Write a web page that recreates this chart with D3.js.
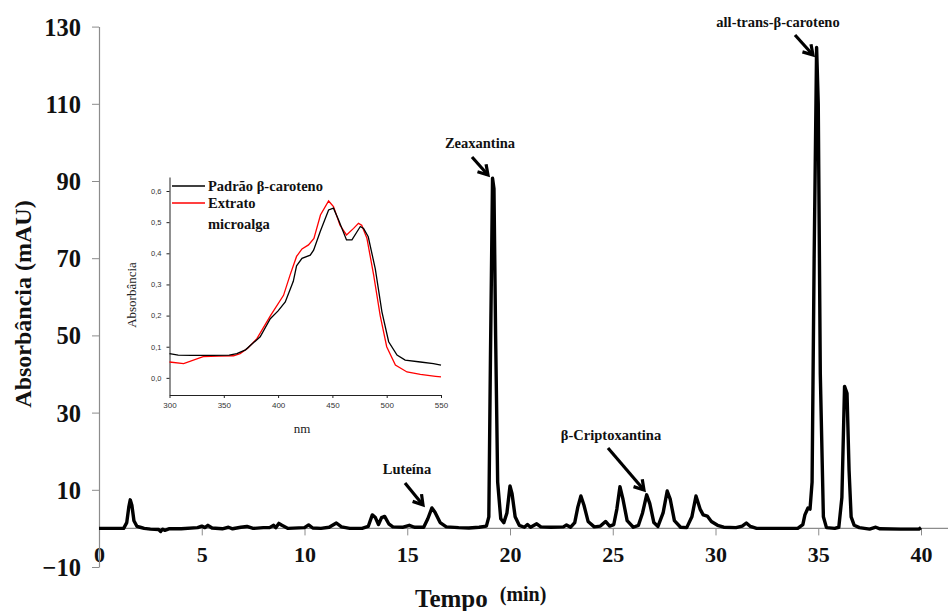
<!DOCTYPE html>
<html><head><meta charset="utf-8">
<script src="https://cdn.jsdelivr.net/npm/d3@7/dist/d3.min.js"></script>
<style>body{margin:0;background:#fff}svg{display:block}</style>
</head><body>
<svg id="c" width="950" height="611"></svg>
<script>
// Chromatogram (time in min, absorbance in mAU)
const chromTime = [0,1.2,1.35,1.45,1.52,1.6,1.7,1.85,2.0,2.2,2.5,2.9,3.0,3.1,3.2,3.4,4.0,4.8,5.0,5.15,5.3,5.5,6.0,6.3,6.5,6.9,7.2,7.5,8.0,8.3,8.5,8.6,8.75,8.9,9.2,10.0,10.2,10.4,10.8,11.2,11.55,11.8,12.2,12.8,13.1,13.3,13.45,13.6,13.75,13.9,14.1,14.3,14.8,15.1,15.35,15.8,16.0,16.2,16.35,16.6,16.9,17.5,18.0,18.5,18.85,18.97,19.05,19.15,19.22,19.3,19.4,19.55,19.7,19.85,20.0,20.1,20.25,20.45,20.7,20.85,21.0,21.3,21.5,22.0,22.6,22.75,22.95,23.15,23.3,23.45,23.6,23.8,24.1,24.4,24.65,24.85,25.05,25.2,25.35,25.5,25.7,26.0,26.25,26.45,26.65,26.8,27.0,27.2,27.45,27.65,27.8,28.0,28.3,28.6,28.85,29.05,29.25,29.4,29.6,29.8,30.1,30.4,31.0,31.3,31.5,31.7,32.0,33.0,34.0,34.25,34.35,34.5,34.6,34.7,34.8,34.92,35.0,35.1,35.25,35.4,35.8,36.0,36.15,36.28,36.4,36.5,36.6,36.75,37.0,37.5,37.8,38.0,39.0,39.9,40.0];
const chromAbs = [0,0,1.5,5.5,7.4,6,2,0.5,0.3,0,-0.2,-0.3,-0.8,-0.2,-0.5,-0.1,-0.1,0.2,0.6,0.2,0.8,0.1,-0.1,0.3,-0.1,0.3,0.5,0,0.2,0.2,0.8,0.2,1.3,0.8,0,0.2,0.9,0.1,0,0.3,1.4,0.4,0,0,0.5,3.5,2.8,1,2.8,3.1,1.2,0.4,0.3,0.8,0.3,0.3,2.5,5.3,4.2,1.5,0.4,0.2,0.1,0.3,0.6,3,45,90.7,88,50,12,2.5,1.5,4,11,9,3,0.8,0.3,1,0.3,1.2,0.4,0.3,0.4,0.9,0.3,1.5,5.5,8.4,6,1.8,0.4,0.6,1.8,0.6,1,5,10.8,7.5,2,0.3,0.8,4,8.7,6.5,1.5,0.5,4,9.7,7.5,2,0.3,0.2,3,8.4,5,3.5,3.2,1.8,0.8,0.3,0.2,0.6,1.4,0.5,0,0,0,1,3.5,5.3,5,12,70,124.6,110,40,3,0.2,0,0.3,8,36.8,35,15,3,0.8,0.2,-0.2,0.3,-0.1,-0.2,-0.2,0.2];
const xTicks = [0,5,10,15,20,25,30,35,40];
const yTicks = [-10,10,30,50,70,90,110,130];

// Peak annotations
const peakNames = ["Luteína","Zeaxantina","β-Criptoxantina","all-trans-β-caroteno"];
const peakTimes = [16.2,19.15,26.65,34.92];
const peakValues = [5.3,90.7,8.7,124.6];

// Inset UV-Vis spectra
const nmBlack = [300,308,320,340,355,362,370,383.5,392.8,400,406.6,414,417,422,429.6,432.7,438.8,446.5,451,455.7,463,468,475.7,478.7,483,489.5,495.6,501.8,509.5,517,531,543,550];
const absBlack = [0.078,0.073,0.072,0.072,0.073,0.078,0.09,0.132,0.19,0.215,0.244,0.31,0.36,0.384,0.394,0.41,0.47,0.539,0.545,0.507,0.443,0.443,0.486,0.48,0.453,0.35,0.212,0.116,0.073,0.057,0.051,0.046,0.041];
const nmRed = [300,313,331,345,359,365,372,380.5,393,405,411,417,422,428,433,439,446.5,451,457,463,469.5,474,477,481.8,488,494,500,508,518.7,531,545,550];
const absRed = [0.051,0.046,0.068,0.07,0.071,0.078,0.095,0.126,0.2,0.265,0.33,0.39,0.414,0.427,0.448,0.523,0.568,0.55,0.49,0.459,0.48,0.496,0.49,0.448,0.33,0.2,0.1,0.041,0.019,0.011,0.005,0.003];
const insetXTicks = [300,350,400,450,500,550];
const insetYTicks = [0,0.1,0.2,0.3,0.4,0.5,0.6];
const legendLabels = [["Padrão β-caroteno"],["Extrato","microalga"]];
const legendColors = ["#000","#ff0000"];

const svg = d3.select("#c");
const serif = "'Liberation Serif','Times New Roman',serif";
const sans = "'Liberation Sans',Arial,sans-serif";
const axisCol = "#8c8c8c";

// ---------- main chart ----------
const x = d3.scaleLinear().domain([0,40]).range([99,921]);
const y = d3.scaleLinear().domain([-10,130]).range([567,26.6]);

const gx = svg.append("g").attr("transform",`translate(0,${y(0)})`)
  .call(d3.axisBottom(x).tickValues(xTicks).tickSize(7).tickSizeOuter(0).tickFormat(d3.format("d")));
gx.select(".domain").remove();
gx.selectAll(".tick line").attr("stroke",axisCol);
gx.selectAll(".tick text").attr("font-family",serif).attr("font-weight","bold")
  .attr("font-size",22).attr("fill","#111").attr("dy",0).attr("y",34);
gx.append("line").attr("x1",x(0)).attr("x2",948).attr("y1",0).attr("y2",0).attr("stroke",axisCol).attr("stroke-width",1.2);

const gy = svg.append("g").attr("transform",`translate(${x(0)},0)`)
  .call(d3.axisLeft(y).tickValues(yTicks).tickSize(7).tickSizeOuter(0).tickFormat(d3.format("d")));
gy.select(".domain").attr("stroke",axisCol).attr("stroke-width",1.2);
gy.selectAll(".tick line").attr("stroke",axisCol);
gy.selectAll(".tick text").attr("font-family",serif).attr("font-weight","bold")
  .attr("font-size",24.5).attr("fill","#111").attr("x",-18).attr("dy","0.35em");

// axis titles
svg.append("text").attr("transform",`translate(31,304) rotate(-90)`).attr("text-anchor","middle")
  .attr("font-family",serif).attr("font-weight","bold").attr("font-size",24).attr("fill","#111")
  .text("Absorbância  (mAU)");
const xt = svg.append("text").attr("x",415).attr("y",607).attr("font-family",serif).attr("font-weight","bold").attr("fill","#111");
xt.append("tspan").attr("font-size",25).text("Tempo");
xt.append("tspan").attr("font-size",20).attr("dx",12).attr("dy",-6).text("(min)");

// chromatogram line
const chrom = chromTime.map((t,i)=>[t,chromAbs[i]]);
svg.append("path").datum(chrom)
  .attr("d",d3.line().x(d=>x(d[0])).y(d=>y(d[1])))
  .attr("fill","none").attr("stroke","#000").attr("stroke-width",3.4).attr("stroke-linejoin","round");

// annotations: label position and arrow endpoints
const annLayout = [
  {lx:407,ly:474,ax0:405,ay0:483,ax1:423,ay1:505},
  {lx:480,ly:148,ax0:472,ay0:157,ax1:488,ay1:175},
  {lx:611,ly:440,ax0:608,ay0:448,ax1:644,ay1:490},
  {lx:778,ly:27,ax0:795,ay0:35,ax1:813,ay1:55}
];
peakNames.forEach((name,i)=>{
  const L = annLayout[i];
  svg.append("text").attr("x",L.lx).attr("y",L.ly).attr("text-anchor","middle")
    .attr("font-family",serif).attr("font-weight","bold").attr("font-size",14.5).attr("fill","#111").text(name);
  const ang = Math.atan2(L.ay1-L.ay0, L.ax1-L.ax0);
  const h = 11, sp = 0.55;
  svg.append("line").attr("x1",L.ax0).attr("y1",L.ay0).attr("x2",L.ax1-Math.cos(ang)*2).attr("y2",L.ay1-Math.sin(ang)*2)
    .attr("stroke","#000").attr("stroke-width",3.2);
  svg.append("polyline")
    .attr("points",[[L.ax1-h*Math.cos(ang-sp),L.ay1-h*Math.sin(ang-sp)],[L.ax1,L.ay1],[L.ax1-h*Math.cos(ang+sp),L.ay1-h*Math.sin(ang+sp)]].map(p=>p.join(",")).join(" "))
    .attr("fill","none").attr("stroke","#000").attr("stroke-width",3.2).attr("stroke-linejoin","miter");
});

// ---------- inset ----------
const ix = d3.scaleLinear().domain([300,550]).range([169.5,441]);
const iy = d3.scaleLinear().domain([-0.055,0.645]).range([395,177]);
const gix = svg.append("g").attr("transform",`translate(0,${iy(-0.055)})`)
  .call(d3.axisBottom(ix).tickValues(insetXTicks).tickSize(3).tickSizeOuter(0).tickFormat(d3.format("d")));
gix.select(".domain").attr("stroke","#222");
gix.selectAll(".tick line").attr("stroke","#222");
gix.selectAll(".tick text").attr("font-family",sans).attr("font-size",8).attr("fill","#333").attr("y",7);
const giy = svg.append("g").attr("transform",`translate(${ix(300)},0)`)
  .call(d3.axisLeft(iy).tickValues(insetYTicks).tickSize(3).tickSizeOuter(0).tickFormat(d=>d3.format(".1f")(d).replace(".",",")));
giy.select(".domain").attr("stroke","#222");
giy.selectAll(".tick line").attr("stroke","#222");
giy.selectAll(".tick text").attr("font-family",sans).attr("font-size",7.5).attr("fill","#333").attr("x",-8);

svg.append("text").attr("transform",`translate(136,295) rotate(-90)`).attr("text-anchor","middle")
  .attr("font-family",serif).attr("font-size",13).attr("fill","#222").text("Absorbância");
svg.append("text").attr("x",ix(422)).attr("y",433).attr("text-anchor","middle")
  .attr("font-family",serif).attr("font-size",13).attr("fill","#222").text("nm");

const spLine = d3.line().x(d=>ix(d[0])).y(d=>iy(d[1]));
svg.append("path").datum(nmRed.map((n,i)=>[n,absRed[i]])).attr("d",spLine)
  .attr("fill","none").attr("stroke",legendColors[1]).attr("stroke-width",1.3);
svg.append("path").datum(nmBlack.map((n,i)=>[n,absBlack[i]])).attr("d",spLine)
  .attr("fill","none").attr("stroke",legendColors[0]).attr("stroke-width",1.3);

// legend
const legY = [186,203];
legendLabels.forEach((lines,i)=>{
  svg.append("line").attr("x1",172).attr("x2",205).attr("y1",legY[i]).attr("y2",legY[i])
    .attr("stroke",legendColors[i]).attr("stroke-width",1.3);
  lines.forEach((t,j)=>{
    svg.append("text").attr("x",208).attr("y",legY[i]+5+j*21)
      .attr("font-family",serif).attr("font-weight","bold").attr("font-size",14.5).attr("fill","#111").text(t);
  });
});
</script>
</body></html>
